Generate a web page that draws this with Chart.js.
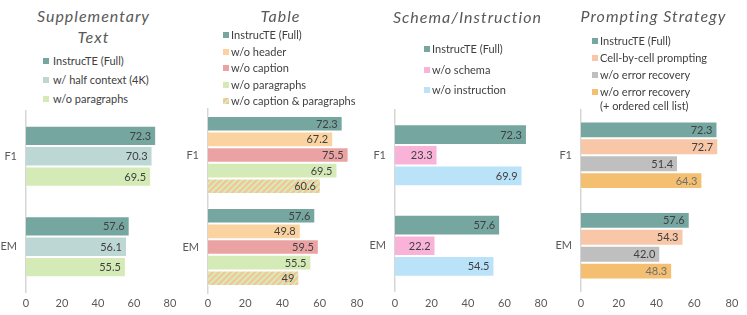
<!DOCTYPE html>
<html>
<head>
<meta charset="utf-8">
<script src="https://cdn.jsdelivr.net/npm/chart.js@4"></script>
<style>
  html, body { margin: 0; padding: 0; background: #fff; }
  #wrap { position: relative; width: 747px; height: 315px; overflow: hidden; font-family: Lato, sans-serif; }
  .panel { position: absolute; top: 0; width: 187px; height: 315px; }
  .panel canvas { position: absolute; top: 0; }
  .title { position: absolute; left: 0; width: 187px; text-align: center; font-style: italic; font-size: 16px;
           line-height: 21px; letter-spacing: 1px; color: #595959; white-space: nowrap; }
  .legend { position: absolute; font-size: 11px; color: #404040; }
  .legend .item { display: flex; align-items: flex-start; line-height: 14px; white-space: pre; }
  .legend .sw { width: 6px; height: 6px; margin-top: 4px; flex: none; }
</style>
</head>
<body>
<div id="wrap"></div>
<script>
// ---- data ----
const categories = ['F1', 'EM'];

const suppTitle = 'Supplementary\nText';
const suppSeries = ['InstrucTE (Full)', 'w/ half context (4K)', 'w/o paragraphs'];
const suppFull = [72.3, 57.6];
const suppHalf = [70.3, 56.1];
const suppNoPara = [69.5, 55.5];

const tableTitle = 'Table';
const tableSeries = ['InstrucTE (Full)', 'w/o header', 'w/o caption', 'w/o paragraphs', 'w/o caption & paragraphs'];
const tableFull = [72.3, 57.6];
const tableNoHeader = [67.2, 49.8];
const tableNoCaption = [75.5, 59.5];
const tableNoPara = [69.5, 55.5];
const tableNoCapPara = [60.6, 49];

const schemaTitle = 'Schema/Instruction';
const schemaSeries = ['InstrucTE (Full)', 'w/o schema', 'w/o instruction'];
const schemaFull = [72.3, 57.6];
const schemaNoSchema = [23.3, 22.2];
const schemaNoInstr = [69.9, 54.5];

const promptTitle = 'Prompting Strategy';
const promptSeries = ['InstrucTE (Full)', 'Cell-by-cell prompting', 'w/o error recovery', 'w/o error recovery\n(+ ordered cell list)'];
const promptFull = [72.3, 57.6];
const promptCell = [72.7, 54.3];
const promptNoRecovery = [51.4, 42.0];
const promptOrdered = [64.3, 48.3];

const xTicks = [0, 20, 40, 60, 80];

// ---- styles ----
const TEAL = '#76a6a0';
const FONT = 'Lato, sans-serif';

function hatch() {
    const c = document.createElement('canvas');
    c.width = 6; c.height = 6;
    const g = c.getContext('2d');
    g.fillStyle = '#d4ebb7';
    g.fillRect(0, 0, 6, 6);
    g.strokeStyle = '#f7c294';
    g.lineWidth = 2;
    g.beginPath();
    g.moveTo(-1, 7); g.lineTo(7, -1);
    g.moveTo(-1, 1); g.lineTo(1, -1);
    g.moveTo(5, 7); g.lineTo(7, 5);
    g.stroke();
    return g.createPattern(c, 'repeat');
}
const HATCH_CSS = 'repeating-linear-gradient(135deg,#d4ebb7 0 2px,#f7c294 2px 4px)';

const panels = [
    { title: suppTitle, titleTop: 5, names: suppSeries, values: [suppFull, suppHalf, suppNoPara],
      colors: [TEAL, '#bdd7d5', '#d4ebb7'],
      left: 0, axisX: 26, x80: 170, top: 111, bottom: 292, cat: 0.674,
      legend: { x: 43, y: 61, gap: 5 } },
    { title: tableTitle, titleTop: 5, names: tableSeries,
      values: [tableFull, tableNoHeader, tableNoCaption, tableNoPara, tableNoCapPara],
      colors: [TEAL, '#fad3a0', '#eba2a3', '#d4ebb7', 'hatch'],
      left: 187, axisX: 208, x80: 357, top: 109, bottom: 293, cat: 0.848,
      legend: { x: 223, y: 35, gap: 2.5 } },
    { title: schemaTitle, titleTop: 6, names: schemaSeries, values: [schemaFull, schemaNoSchema, schemaNoInstr],
      colors: [TEAL, '#f9b3d9', '#bae3f9'],
      left: 374, axisX: 395, x80: 541, top: 110, bottom: 291, cat: 0.685,
      legend: { x: 424, y: 49, gap: 6.5 } },
    { title: promptTitle, titleTop: 5, names: promptSeries,
      values: [promptFull, promptCell, promptNoRecovery, promptOrdered],
      colors: [TEAL, '#f7c7a7', '#bfbfbf', '#f4bf70'], labelColors: ['#404040', '#404040', '#404040', '#707070'],
      fixed: true,
      left: 560, axisX: 581, x80: 732, top: 110, bottom: 291, cat: 0.748,
      legend: { x: 592, y: 41, gap: 3 } }
];

// value labels inside bar ends
const barLabels = {
    id: 'barLabels',
    afterDatasetsDraw(chart) {
        const ctx = chart.ctx;
        const p = chart.options.plugins.barLabels;
        ctx.save();
        ctx.font = '11px ' + FONT;
        ctx.textAlign = 'right';
        ctx.textBaseline = 'middle';
        chart.data.datasets.forEach((ds, i) => {
            const meta = chart.getDatasetMeta(i);
            ctx.fillStyle = (p.colors && p.colors[i]) || '#404040';
            meta.data.forEach((bar, j) => {
                const v = ds.data[j];
                ctx.fillText(p.fixed ? v.toFixed(1) : String(v), bar.x - 5, bar.y + 0.5);
            });
        });
        ctx.restore();
    }
};

const wrap = document.getElementById('wrap');

panels.forEach(pn => {
    const W = 187, H = 315;
    // canvas reaches a bit left of the panel so the "EM" label is not cut
    const off = pn.left === 0 ? 0 : 14;
    const div = document.createElement('div');
    div.className = 'panel';
    div.style.left = pn.left + 'px';
    wrap.appendChild(div);

    const t = document.createElement('div');
    t.className = 'title';
    t.style.top = pn.titleTop + 'px';
    t.innerHTML = pn.title.split('\n').join('<br>');
    div.appendChild(t);

    const lg = document.createElement('div');
    lg.className = 'legend';
    lg.style.left = (pn.legend.x - pn.left) + 'px';
    lg.style.top = (pn.legend.y - 7) + 'px';
    pn.names.forEach((name, i) => {
        const it = document.createElement('div');
        it.className = 'item';
        it.style.marginBottom = pn.legend.gap + 'px';
        const sw = document.createElement('span');
        sw.className = 'sw';
        sw.style.background = pn.colors[i] === 'hatch' ? HATCH_CSS : pn.colors[i];
        sw.style.marginRight = (pn.left === 0 ? 4 : 2) + 'px';
        const tx = document.createElement('span');
        tx.textContent = name;
        it.appendChild(sw);
        it.appendChild(tx);
        lg.appendChild(it);
    });
    div.appendChild(lg);

    const cw = W + off;
    const cv = document.createElement('canvas');
    cv.width = cw; cv.height = H;
    cv.style.width = cw + 'px'; cv.style.height = H + 'px';
    cv.style.left = (-off) + 'px';
    div.appendChild(cv);

    new Chart(cv, {
        type: 'bar',
        data: {
            labels: categories,
            datasets: pn.values.map((vals, i) => ({
                label: pn.names[i],
                data: vals,
                backgroundColor: pn.colors[i] === 'hatch' ? hatch() : pn.colors[i],
                borderColor: 'rgba(255,255,255,0.85)',
                borderWidth: 1,
                borderSkipped: 'start',
                barPercentage: 1,
                categoryPercentage: pn.cat
            }))
        },
        options: {
            indexAxis: 'y',
            responsive: false,
            animation: false,
            devicePixelRatio: 1,
            layout: { padding: { left: 0, top: pn.top, right: cw - (pn.x80 - pn.left + off), bottom: 0 } },
            plugins: {
                legend: { display: false },
                tooltip: { enabled: false },
                barLabels: { colors: pn.labelColors, fixed: pn.fixed }
            },
            scales: {
                x: {
                    min: 0, max: 80,
                    afterBuildTicks: s => { s.ticks = xTicks.map(v => ({ value: v })); },
                    grid: { display: false, drawTicks: false },
                    border: { display: false },
                    ticks: { font: { family: FONT, size: 11 }, color: '#595959', padding: 297 - pn.bottom },
                    afterFit: s => { s.height = H - pn.bottom; }
                },
                y: {
                    grid: { display: false, drawTicks: false },
                    border: { display: true, color: '#d6d6d6', width: 1.5 },
                    ticks: { font: { family: FONT, size: 11 }, color: '#595959', padding: 9 },
                    afterFit: s => { s.width = pn.axisX - pn.left + off; }
                }
            }
        },
        plugins: [barLabels]
    });
});
</script>
</body>
</html>
